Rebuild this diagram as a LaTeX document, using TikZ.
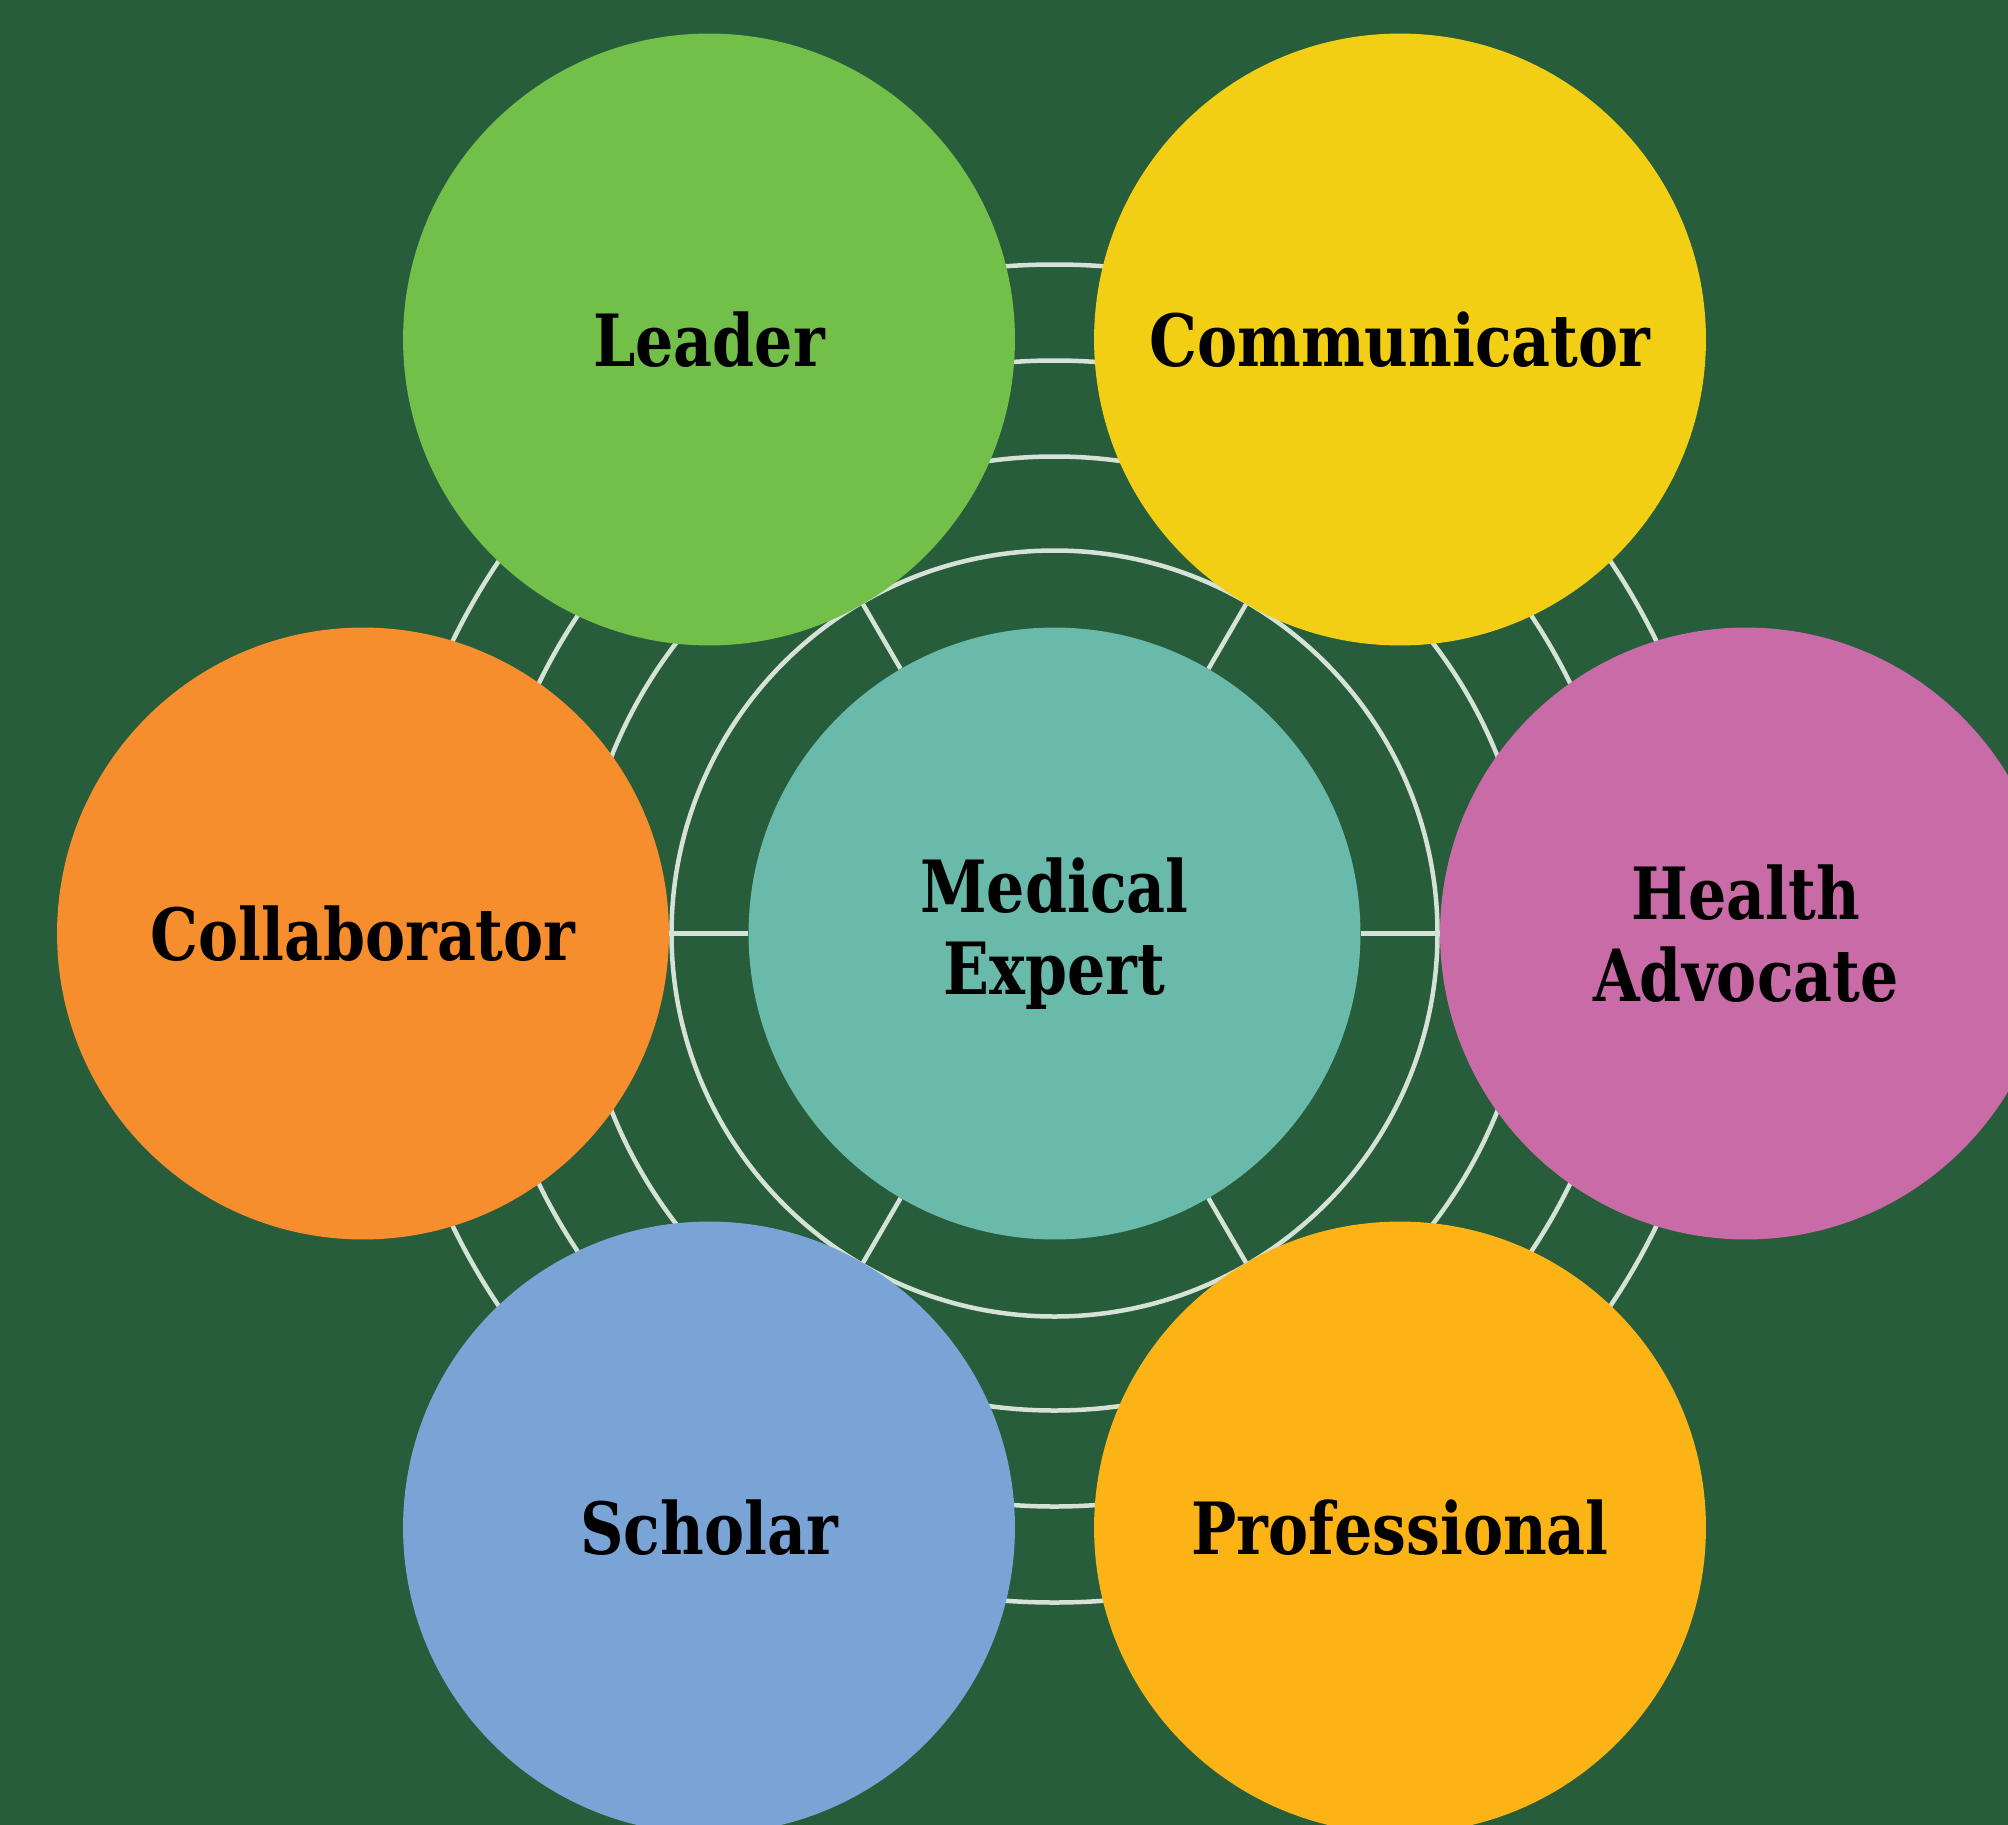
\documentclass[tikz,border=0pt]{standalone}
\usepackage{fontspec}
\setmainfont[FakeStretch=0.835]{DejaVu Serif}
\definecolor{bgGreen}{HTML}{275D3A}
\definecolor{lineGray}{HTML}{D6E2D8}
\definecolor{expertTeal}{HTML}{6ABAAB}
\definecolor{leaderGreen}{HTML}{72BF4A}
\definecolor{commYellow}{HTML}{F2CF15}
\definecolor{collabOrange}{HTML}{F78E2E}
\definecolor{advocatePink}{HTML}{C96BA6}
\definecolor{scholarBlue}{HTML}{7BA4D6}
\definecolor{profAmber}{HTML}{FCB316}
\tikzset{
	role/.style={circle,minimum size=12.24cm,inner sep=0pt,align=center,
		font=\bfseries\fontsize{41}{47}\selectfont},
	ring/.style={draw=lineGray,line width=0.09cm}
}
\begin{document}
\begin{tikzpicture}[x=0.02cm,y=-0.02cm]
	\fill [bgGreen] (0,0) rectangle (2008,1825);
	\useasboundingbox (0,0) rectangle (2008,1825);

	\coordinate (mid) at (1054.5,933.5);
	\foreach \r in {383,477,573,669}
		\draw [ring] (mid) circle [radius=\r*0.02cm];

	\node [role,fill=expertTeal] (expert) at (mid) {Medical\\Expert};
	\node [role,fill=leaderGreen] (leader) at (709,339.5) {Leader};
	\node [role,fill=commYellow] (comm) at (1400,339.5) {Communicator};
	\node [role,fill=collabOrange] (collab) at (363,933.5) {Collaborator};
	\node [role,fill=advocatePink] (advocate) at (1746,933.5) {Health\\Advocate};
	\node [role,fill=scholarBlue] (scholar) at (709,1527.5) {Scholar};
	\node [role,fill=profAmber] (prof) at (1400,1527.5) {Professional};

	\foreach \n in {leader,comm,collab,advocate,scholar,prof}
		\draw [ring] (expert) -- (\n);
\end{tikzpicture}
\end{document}
